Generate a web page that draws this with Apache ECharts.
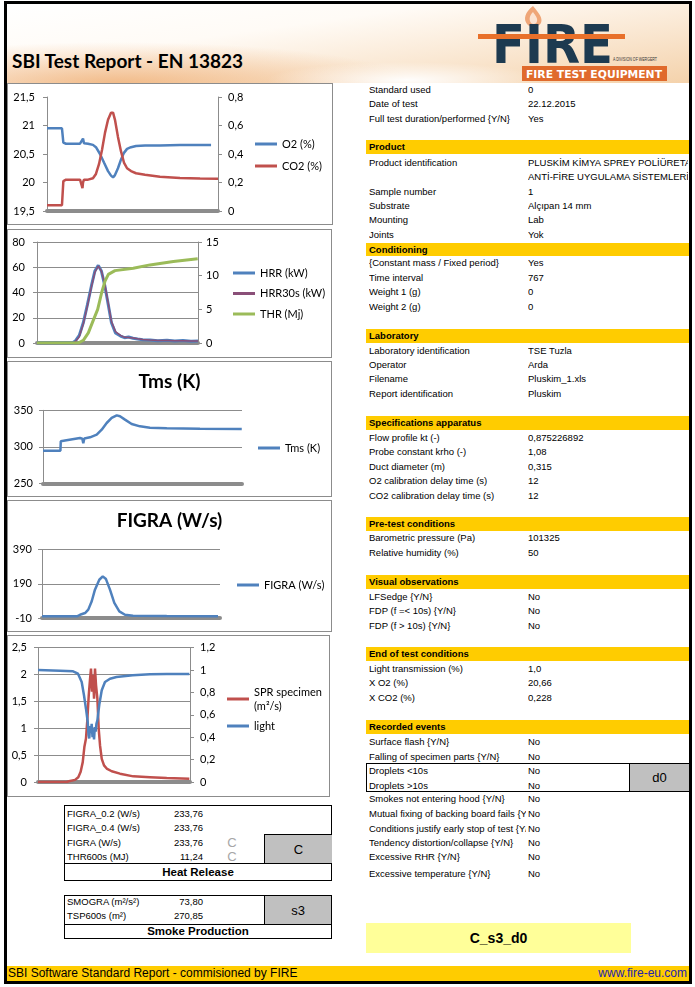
<!DOCTYPE html>
<html><head><meta charset="utf-8">
<script src="https://cdn.jsdelivr.net/npm/echarts@6/dist/echarts.min.js"></script>
<style>
html,body{margin:0;padding:0;background:#fff;}
#page{position:relative;width:695px;height:987px;overflow:hidden;font-family:"Liberation Sans",Arial,sans-serif;color:#000;background:#fff;}
.frame{position:absolute;left:4px;top:1px;width:688px;height:983px;box-sizing:border-box;border:3px solid #000;pointer-events:none;z-index:5;}
.hdr{position:absolute;left:7px;top:4px;width:682px;height:79px;
background:
radial-gradient(ellipse 140px 18px at 400px 76px, rgba(255,255,255,0.95), rgba(255,255,255,0) 100%),
radial-gradient(ellipse 300px 42px at 110px 80px, rgba(236,158,88,0.65), rgba(236,158,88,0) 100%),
linear-gradient(172deg,#ffffff 0%,#fffbf6 35%,#f9e4cc 72%,#f4d2ab 100%);}
.box{position:absolute;border:1px solid #8c8c8c;box-sizing:border-box;pointer-events:none;z-index:3;}
.chart{position:absolute;}
</style></head>
<body><div id="page">
<div class="hdr"></div>
<div style="position:absolute;left:12px;top:50px;font-family:Lato,sans-serif;font-weight:bold;font-size:19px;line-height:22px;white-space:nowrap;">SBI Test Report - EN 13823</div>
<svg style="position:absolute;left:470px;top:0px;" width="222" height="84" viewBox="0 0 222 84">
  <path d="M63 6 C55 12 53 19 57 24 C60 28 68 28 71 23 C73 18 69 13 63 6Z" fill="#efa678"/>
  <path d="M63 12 C59 16 59 20 61 23 C63 25 67 24 67 21 C68 18 65 15 63 12Z" fill="#fbe3d2"/>
  <text x="22" y="63" font-family="DejaVu Sans" font-weight="bold" font-size="54" fill="#1d3a50" textLength="121" lengthAdjust="spacingAndGlyphs">FIRE</text>
  <rect x="8" y="34" width="147" height="5" fill="#e8702a"/>
  <text x="143" y="61" font-family="Liberation Sans" font-size="4.5" fill="#333" textLength="44" lengthAdjust="spacingAndGlyphs">A DIVISION OF WERGERT</text>
  <rect x="52" y="66" width="145" height="15" fill="#e06a2c"/>
  <text x="56" y="77.5" font-family="DejaVu Sans" font-weight="bold" font-size="10" fill="#ffffff" textLength="136" lengthAdjust="spacingAndGlyphs">FIRE TEST EQUIPMENT</text>
</svg>

<div id="c1" class="chart" style="left:7px;top:83px;width:326px;height:142px;"></div>
<div class="box" style="left:7px;top:83px;width:326px;height:142px;"></div>
<div id="c2" class="chart" style="left:7px;top:229px;width:325px;height:129px;"></div>
<div class="box" style="left:7px;top:229px;width:325px;height:129px;"></div>
<div id="c3" class="chart" style="left:7px;top:361px;width:325px;height:136px;"></div>
<div class="box" style="left:7px;top:361px;width:325px;height:136px;"></div>
<div id="c4" class="chart" style="left:7px;top:500px;width:325px;height:132px;"></div>
<div class="box" style="left:7px;top:500px;width:325px;height:132px;"></div>
<div id="c5" class="chart" style="left:7px;top:635px;width:323px;height:162px;"></div>
<div class="box" style="left:7px;top:635px;width:323px;height:162px;"></div>

<div class="frame"></div>
</div>
<script>
// ---------- data (time in s) ----------
const o2Time = [0,140,148,153,178,262,309,327,337,346,384,430,458,496,533,571,599,618,636,664,692,720,749,786,833,917,1057,1244,1432,1535];
const o2Values = [20.95,20.95,20.94,20.70,20.68,20.68,20.68,20.70,20.77,20.69,20.68,20.66,20.62,20.50,20.35,20.20,20.12,20.09,20.13,20.25,20.40,20.52,20.59,20.62,20.64,20.65,20.65,20.66,20.66,20.66];
const co2Time = [0,140,148,153,178,309,327,332,337,346,384,430,458,487,515,543,571,599,618,636,664,692,720,749,786,833,917,1057,1244,1432,1600];
const co2Values = [0.04,0.04,0.05,0.21,0.22,0.22,0.21,0.16,0.20,0.22,0.22,0.23,0.26,0.33,0.43,0.55,0.64,0.69,0.69,0.64,0.52,0.42,0.34,0.30,0.28,0.265,0.255,0.24,0.232,0.228,0.226];

const hrrTime = [0,350,380,420,460,500,540,575,609,640,675,709,740,780,830,870,910,954,1000,1050,1123,1200,1292,1370,1451,1530,1600];
const hrrValues = [0,0,1.5,6,16,30,45,57,61.5,57,45,30,16,8,5.5,4.2,4.8,3.8,3.2,2.6,2.4,1.8,2.1,1.6,1.9,1.4,1.5];
const hrr30Values = [0,0,1,5,15,29,44,56,61,57,46,31,17,9,6,4.5,4.4,3.9,3.3,2.7,2.3,1.9,2.0,1.7,1.8,1.5,1.5];
const thrTime = [0,411,460,510,560,603,643,676,709,775,957,1123,1355,1597];
const thrValues = [0,0,0.4,1.5,3.4,5.0,7.5,9.2,10.2,10.75,11.1,11.6,12.1,12.5];

const tmsTime = [0,140,143,177,297,316,324,332,378,432,472,512,552,593,619,659,713,780,860,995,1262,1598];
const tmsValues = [294.6,294.6,307.5,308.5,312,311,305,311.5,313,316.6,323.4,332.6,339.5,343,341.8,337.2,331.2,328,326.2,325.3,324.8,324.4];

const figraTime = [0,315,342,387,416,447,476,515,546,575,611,650,695,746,818,1121,1582];
const figraValues = [0,0,9,19,39,88,156,214,234,218,156,78,29,9,3.5,1,0];
const figraTicks = [-10,190,390];

const sprTime = [0,302,337,390,424,449,471,488,505,519,534,548,558,569,579,590,600,611,625,639,653,671,695,723,776,863,1003,1179,1355,1593];
const sprValues = [0,0,0.02,0.04,0.09,0.19,0.37,0.65,0.81,1.15,1.61,1.92,2.11,1.68,1.99,1.55,2.11,1.80,1.55,0.99,0.68,0.43,0.31,0.25,0.20,0.155,0.105,0.09,0.075,0.06];
const lightTime = [0,232,369,421,460,484,505,523,532,540,548,556,565,574,582,590,598,607,615,625,635,645,671,705,758,826,997,1179,1355,1593];
const lightValues = [1.0,0.995,0.989,0.968,0.894,0.775,0.655,0.54,0.42,0.39,0.50,0.44,0.52,0.40,0.47,0.38,0.49,0.45,0.52,0.55,0.62,0.69,0.82,0.894,0.923,0.938,0.953,0.962,0.965,0.965];

// ---------- helpers ----------
const zip = (t, v) => t.map((x, i) => [x, v[i]]);
const fmt = v => String(+v.toFixed(6)).replace('.', ',');
const LBL = {color:'#000', fontFamily:'Lato', fontSize:11};
const AX = '#8c8c8c';
const BLUE = '#4f81bd', RED = '#c0504d', GREEN = '#9bbb59';

function xAxisBar(){
  return {type:'value', min:0, max:1600, axisLine:{onZero:false, lineStyle:{color:AX, width:4}},
    axisTick:{show:false}, axisLabel:{show:false}, splitLine:{show:false}};
}
function yAx(o){
  return Object.assign({type:'value', axisLine:{show:true, lineStyle:{color:AX}},
    axisTick:{show:true, length:4, lineStyle:{color:AX}},
    axisLabel:Object.assign({formatter:fmt, margin:o.margin||10}, LBL),
    splitLine:{show:!!o.grid, lineStyle:{color:AX}}}, o.ax);
}
function line(name, data, color, width, yi){
  return {name, type:'line', yAxisIndex:yi||0, data, showSymbol:false, symbol:'none',
    lineStyle:{color, width}, itemStyle:{color}, animation:false};
}
function legend(left, top, gap, data, fmtFn){
  return {orient:'vertical', left, top, padding:0, itemGap:gap, itemWidth:22, itemHeight:3, icon:'rect',
    textStyle:{color:'#000', fontFamily:'Lato', fontSize:11, lineHeight:14}, data, formatter:fmtFn};
}
function title(text){
  return {text, left:'center', top:6, textStyle:{fontFamily:'Lato', fontWeight:'bold', fontSize:19, color:'#000'}};
}

// Chart 1: O2 / CO2
echarts.init(document.getElementById('c1')).setOption({
  animation:false,
  grid:{left:40, top:14, width:171, height:114},
  xAxis:xAxisBar(),
  yAxis:[yAx({margin:12, ax:{min:19.5, max:21.5, interval:0.5}}),
         yAx({margin:10, ax:{position:'right', min:0, max:0.8, interval:0.2}})],
  legend:legend(248, 54, 8, ['O2 (%)','CO2 (%)']),
  series:[line('O2 (%)', zip(o2Time,o2Values), BLUE, 2.5, 0),
          line('CO2 (%)', zip(co2Time,co2Values), RED, 2.5, 1)]
});

// Chart 2: HRR / THR
echarts.init(document.getElementById('c2')).setOption({
  animation:false,
  grid:{left:30, top:13, width:161, height:101},
  xAxis:xAxisBar(),
  yAxis:[yAx({margin:12, grid:true, ax:{min:0, max:80, interval:20}}),
         yAx({margin:8, ax:{position:'right', min:0, max:15, interval:5}})],
  legend:legend(226, 37, 6.5, ['HRR (kW)','HRR30s (kW)','THR (Mj)']),
  series:[line('HRR (kW)', zip(hrrTime,hrrValues), BLUE, 3, 0),
          line('HRR30s (kW)', zip(hrrTime,hrr30Values), '#8a4f78', 1.5, 0),
          line('THR (Mj)', zip(thrTime,thrValues), GREEN, 3, 1)]
});

// Chart 3: Tms
echarts.init(document.getElementById('c3')).setOption({
  animation:false,
  title:title('Tms (K)'),
  grid:{left:36, top:49.3, width:199, height:73},
  xAxis:xAxisBar(),
  yAxis:yAx({margin:10, grid:true, ax:{min:250, max:350, interval:50}}),
  legend:legend(251, 80, 6, ['Tms (K)']),
  series:[line('Tms (K)', zip(tmsTime,tmsValues), BLUE, 2.5, 0)]
});

// Chart 4: FIGRA
const y4 = yAx({margin:10, grid:true, ax:{min:-10, max:390}});
y4.axisLabel.customValues = figraTicks;
y4.axisTick.customValues = figraTicks;
echarts.init(document.getElementById('c4')).setOption({
  animation:false,
  title:title('FIGRA (W/s)'),
  grid:{left:35, top:49.7, width:178, height:68.3},
  xAxis:xAxisBar(),
  yAxis:y4,
  legend:legend(230, 78, 6, ['FIGRA (W/s)']),
  series:[line('FIGRA (W/s)', zip(figraTime,figraValues), BLUE, 2.5, 0)]
});

// Chart 5: SPR / light
echarts.init(document.getElementById('c5')).setOption({
  animation:false,
  grid:{left:31, top:12.7, width:152, height:134.3},
  xAxis:xAxisBar(),
  yAxis:[yAx({margin:11, grid:true, ax:{min:0, max:2.5, interval:0.5}}),
         yAx({margin:10, ax:{position:'right', min:0, max:1.2, interval:0.2}})],
  legend:legend(220, 50, 6, ['SPR specimen (m²/s)','light'], n => n === 'SPR specimen (m²/s)' ? 'SPR specimen\n(m²/s)' : n),
  series:[line('SPR specimen (m²/s)', zip(sprTime,sprValues), RED, 2.5, 0),
          line('light', zip(lightTime,lightValues), BLUE, 2.5, 1)]
});

// ---------- report tables (HTML) ----------
const P = document.getElementById('page');
function el(text, css){ const d=document.createElement('div'); d.style.cssText='position:absolute;white-space:nowrap;'+css; d.textContent=text; P.appendChild(d); return d; }
const F = 'font-size:9.5px;line-height:12px;height:12px;';
function row(yc, label, value){
  if(label) el(label, `left:369px;top:${yc-6}px;width:157px;overflow:hidden;${F}`);
  if(value!==undefined) el(value, `left:528px;top:${yc-6}px;width:160px;overflow:hidden;${F}`);
}
function band(top, h, text){
  el(text, `left:366px;top:${top}px;width:320px;height:${h}px;line-height:${h}px;padding-left:3px;background:#ffcc00;font-weight:bold;font-size:9.5px;z-index:1;`);
}
row(90,'Standard used','0');
row(104,'Date of test','22.12.2015');
row(119,'Full test duration/performed {Y/N}','Yes');
band(140,14,'Product');
row(163,'Product identification','PLUSKİM KİMYA SPREY POLİÜRETA');
row(177,'','ANTİ-FİRE UYGULAMA SİSTEMLERİ');
row(192,'Sample number','1');
row(206,'Substrate','Alçıpan 14 mm');
row(220,'Mounting','Lab');
row(235,'Joints','Yok');
band(243,13,'Conditioning');
row(263,'{Constant mass / Fixed period}','Yes');
row(278,'Time interval','767');
row(292,'Weight 1 (g)','0');
row(307,'Weight 2 (g)','0');
band(329,14,'Laboratory');
row(351,'Laboratory identification','TSE Tuzla');
row(365,'Operator','Arda');
row(379,'Filename','Pluskim_1.xls');
row(394,'Report identification','Pluskim');
band(416,14,'Specifications apparatus');
row(438,'Flow profile kt (-)','0,875226892');
row(452,'Probe constant krho (-)','1,08');
row(467,'Duct diameter (m)','0,315');
row(481,'O2 calibration delay time (s)','12');
row(496,'CO2 calibration delay time (s)','12');
band(517,14,'Pre-test conditions');
row(538,'Barometric pressure (Pa)','101325');
row(553,'Relative humidity (%)','50');
band(575,14,'Visual observations');
row(597,'LFSedge {Y/N}','No');
row(611,'FDP (f =< 10s) {Y/N}','No');
row(626,'FDP (f > 10s) {Y/N}','No');
band(647,14,'End of test conditions');
row(669,'Light transmission (%)','1,0');
row(683,'X O2 (%)','20,66');
row(698,'X CO2 (%)','0,228');
band(720,14,'Recorded events');
row(742,'Surface flash {Y/N}','No');
row(757,'Falling of specimen parts {Y/N}','No');
el('', 'left:366px;top:763px;width:323px;height:29px;box-sizing:border-box;border:1px solid #000;');
el('d0', 'left:629px;top:763px;width:60px;height:29px;box-sizing:border-box;border-left:1px solid #000;border-top:1px solid #000;border-bottom:1px solid #000;background:#c0c0c0;text-align:center;line-height:27px;font-size:13px;');
row(771,'Droplets <10s','No');
row(786,'Droplets >10s','No');
row(799,'Smokes not entering hood {Y/N}','No');
row(814,'Mutual fixing of backing board fails {Y/N}','No');
row(829,'Conditions justify early stop of test {Y/N}','No');
row(843,'Tendency distortion/collapse {Y/N}','No');
row(857,'Excessive RHR {Y/N}','No');
row(874,'Excessive temperature {Y/N}','No');
el('C_s3_d0', 'left:366px;top:923px;width:265px;height:30px;background:#ffff99;text-align:center;line-height:30px;font-size:14px;font-weight:bold;');

// Heat release table
el('', 'left:64px;top:805px;width:268px;height:76px;box-sizing:border-box;border:1px solid #000;');
function lrow(yc, label, value){
  el(label, `left:67px;top:${yc-6}px;${F}`);
  el(value, `left:150px;top:${yc-6}px;width:53px;text-align:right;${F}`);
}
lrow(814,'FIGRA_0.2 (W/s)','233,76');
lrow(828,'FIGRA_0.4 (W/s)','233,76');
lrow(843,'FIGRA (W/s)','233,76');
lrow(857,'THR600s (MJ)','11,24');
el('C', 'left:222px;top:835px;width:20px;text-align:center;font-size:13px;line-height:15px;color:#a6a6a6;');
el('C', 'left:222px;top:849px;width:20px;text-align:center;font-size:13px;line-height:15px;color:#a6a6a6;');
el('C', 'left:264px;top:834px;width:68px;height:30px;box-sizing:border-box;border-left:1px solid #000;border-top:1px solid #000;background:#c0c0c0;text-align:center;line-height:29px;font-size:13px;');
el('', 'left:64px;top:863px;width:268px;height:1px;background:#000;');
el('Heat Release', 'left:64px;top:865px;width:268px;text-align:center;font-weight:bold;font-size:11.5px;line-height:15px;');

// Smoke production table
el('', 'left:64px;top:895px;width:268px;height:44px;box-sizing:border-box;border:1px solid #000;');
lrow(902,'SMOGRA (m²/s²)','73,80');
lrow(916,'TSP600s (m²)','270,85');
el('s3', 'left:264px;top:895px;width:68px;height:30px;box-sizing:border-box;border-left:1px solid #000;border-top:1px solid #000;border-right:1px solid #000;background:#c0c0c0;text-align:center;line-height:29px;font-size:13px;');
el('', 'left:64px;top:924px;width:268px;height:1px;background:#000;');
el('Smoke Production', 'left:64px;top:924px;width:268px;text-align:center;font-weight:bold;font-size:11.5px;line-height:15px;');

// Footer
el('', 'left:7px;top:966px;width:682px;height:15px;background:#ffcc00;');
el('SBI Software Standard Report - commisioned by FIRE', 'left:8px;top:966px;font-size:12px;line-height:15px;');
el('www.fire-eu.com', 'left:560px;top:966px;width:127px;text-align:right;font-size:12px;line-height:15px;color:#2222b0;');
</script>
</body></html>
